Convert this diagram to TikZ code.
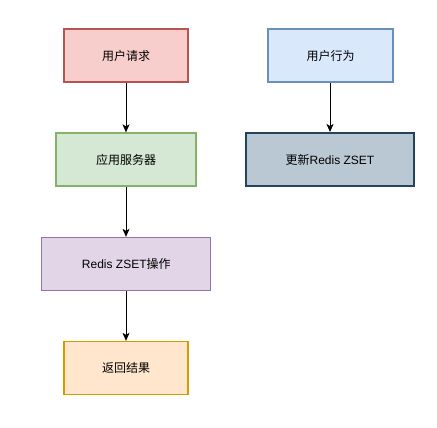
\documentclass[tikz,border=0pt]{standalone}
\usepackage{fontspec}
\setmainfont{Liberation Sans}
\newfontfamily\cjk{Noto Sans CJK SC}
\usetikzlibrary{arrows.meta}
\definecolor{pinkF}{HTML}{F8CECC}\definecolor{pinkD}{HTML}{B85450}
\definecolor{greenF}{HTML}{D5E8D4}\definecolor{greenD}{HTML}{82B366}
\definecolor{purpF}{HTML}{E1D5E7}\definecolor{purpD}{HTML}{9673A6}
\definecolor{orF}{HTML}{FFE6CC}\definecolor{orD}{HTML}{D79B00}
\definecolor{blueF}{HTML}{DAE8FC}\definecolor{blueD}{HTML}{6C8EBF}
\definecolor{grayF}{HTML}{BAC8D3}\definecolor{grayD}{HTML}{23445D}
\tikzset{
  box/.style={draw, line width=1.3pt, minimum height=53pt, inner sep=0pt,
    font=\fontsize{12}{14}\selectfont, text=black},
  conn/.style={draw=black, line width=1pt, -{Stealth[length=8pt,width=7pt,inset=2pt]}}
}
\begin{document}
\begin{tikzpicture}[x=1pt,y=-1pt]
\useasboundingbox (0,0) rectangle (437,428);
\fill[white] (0,0) rectangle (437,428);
\node[box, fill=pinkF, draw=pinkD, minimum width=124pt] (req) at (126,55.5) {\cjk 用户请求};
\node[box, fill=greenF, draw=greenD, minimum width=140pt] (app) at (126,159.5) {\cjk 应用服务器};
\node[box, fill=purpF, draw=purpD, minimum width=169pt] (zop) at (126.3,264) {Redis ZSET{\cjk 操作}};
\node[box, fill=orF, draw=orD, minimum width=124pt] (ret) at (126,368) {\cjk 返回结果};
\node[box, fill=blueF, draw=blueD, minimum width=125pt] (beh) at (330.5,55.5) {\cjk 用户行为};
\node[box, fill=grayF, draw=grayD, line width=2pt, minimum width=168pt] (upd) at (330,159.5) {{\cjk 更新}Redis ZSET};
\draw[conn] (req) -- (app);
\draw[conn] (app.south) -- (zop.north -| app.south);
\draw[conn] (zop.south -| ret.north) -- (ret.north);
\draw[conn] (beh.south -| upd.north) -- (upd.north);
\end{tikzpicture}
\end{document}
